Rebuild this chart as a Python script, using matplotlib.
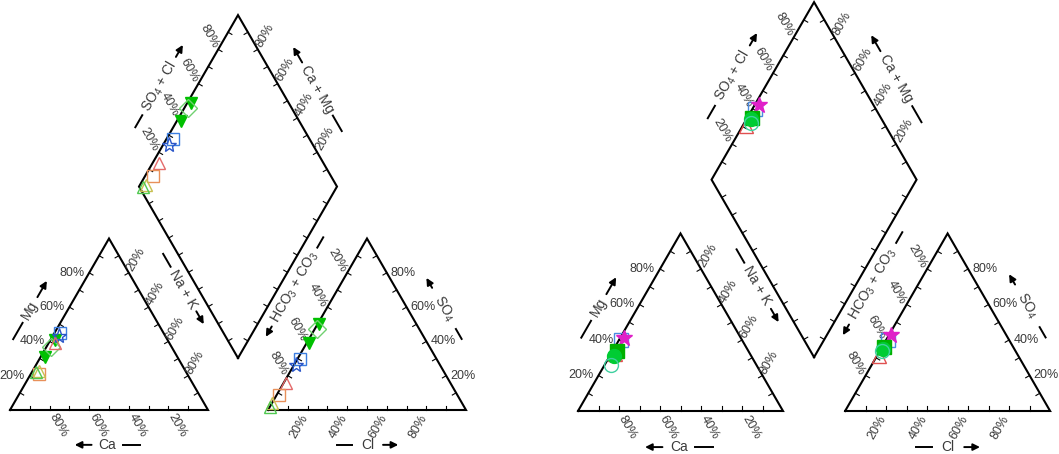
import numpy as np
import matplotlib.pyplot as plt

plt.rcParams['font.family'] = ['Liberation Sans', 'DejaVu Sans']
plt.rcParams['mathtext.fontset'] = 'custom'
plt.rcParams['mathtext.rm'] = 'Liberation Sans'
plt.rcParams['mathtext.it'] = 'Liberation Sans:italic'

GAP = 0.303
H = np.sqrt(3) / 2

# ---- data (meq %) ----
# left diagram
left_ca = [57, 67, 61, 52, 54, 58, 75, 74, 76]
left_mg = [41, 31, 37, 45, 43, 39, 21, 23, 22]
left_nak = [2, 2, 2, 3, 3, 3, 4, 3, 2]
left_cl = [1, 1, 1, 1, 1, 1, 1, 0, 0]
left_so4 = [50, 39, 47, 30, 26, 16, 9, 4, 2]
left_hco3 = [49, 60, 52, 69, 73, 83, 90, 96, 98]
left_markers = ['v', 'v', 'D', 's', '*', '^', 's', '^', '^']
left_colors = ['#00c000', '#00c000', '#70d070', '#3c7ee0', '#2a55c8',
               '#e46a6a', '#e8905a', '#c8c050', '#50c850']
left_filled = [True, True, False, False, False, False, False, False, False]

# right diagram
right_ca = [66, 59, 57, 64, 67, 71]
right_mg = [32, 40, 41, 34, 31, 26]
right_nak = [2, 1, 2, 2, 2, 3]
right_cl = [1, 1, 1, 1, 1, 1]
right_so4 = [31, 40, 43, 36, 35, 34]
right_hco3 = [68, 59, 56, 63, 64, 65]
right_markers = ['^', 's', '*', 's', 'o', 'o']
right_colors = ['#e05050', '#4a8ae0', '#e020c8', '#00b000', '#00cc33', '#40d0a0']
right_filled = [False, False, True, True, True, False]

ticks = [20, 40, 60, 80]
TXT = '#3a3a3a'


def edge_ticks(ax, p0, p1, center, n=10, ln=0.022):
    p0 = np.array(p0); p1 = np.array(p1)
    d = (p1 - p0) / np.linalg.norm(p1 - p0)
    nrm = np.array([-d[1], d[0]])
    mid = (p0 + p1) / 2
    if np.dot(center - mid, nrm) < 0:
        nrm = -nrm
    for i in range(1, n):
        p = p0 + (p1 - p0) * i / n
        q = p + nrm * ln
        ax.plot([p[0], q[0]], [p[1], q[1]], color='k', lw=0.8)


def axis_name(ax, text, c, rot, inner, outer, arrow_first):
    a = np.deg2rad(rot)
    d = np.array([np.cos(a), np.sin(a)])
    c = np.array(c)
    ax.text(c[0], c[1], text, rotation=rot, ha='center', va='center',
            rotation_mode='anchor', fontsize=10, color=TXT)
    neg = (c - d * inner, c - d * outer)
    pos = (c + d * inner, c + d * outer)
    arr, dash = (neg, pos) if arrow_first else (pos, neg)
    ax.plot([dash[0][0], dash[1][0]], [dash[0][1], dash[1][1]], color='k', lw=1.4)
    ax.annotate('', xy=arr[1], xytext=arr[0],
                arrowprops=dict(arrowstyle='-|>', color='k', lw=1.4,
                                mutation_scale=10, shrinkA=0, shrinkB=0))


def piper(ax, ca, mg, nak, cl, so4, hco3, markers, colors, filled, size):
    x0 = 1 + GAP
    B = np.array([1 + GAP / 2, GAP * H])
    L = B + [-0.5, H]
    R = B + [0.5, H]
    T = B + [0, 2 * H]
    tri1 = [(0, 0), (1, 0), (0.5, H)]
    tri2 = [(x0, 0), (x0 + 1, 0), (x0 + 0.5, H)]
    dia = [tuple(B), tuple(R), tuple(T), tuple(L)]
    for poly in (tri1, tri2, dia):
        pts = np.array(poly + [poly[0]])
        ax.plot(pts[:, 0], pts[:, 1], color='k', lw=1.5, solid_joinstyle='miter')
        cen = pts[:-1].mean(axis=0)
        for i in range(len(poly)):
            edge_ticks(ax, poly[i], poly[(i + 1) % len(poly)], cen)

    kw = dict(fontsize=9, color=TXT, rotation_mode='anchor')
    for t in ticks:
        v = t / 100
        s = f'{t}%'
        # Mg (left edge, left triangle)
        ax.text(0.5 * v - 0.025, H * v, s, ha='right', va='center', **kw)
        # Ca (bottom)
        ax.text(1 - v + 0.012, -0.025, s, ha='left', va='center', rotation=-60, **kw)
        # Na+K (right edge)
        ax.text(0.5 + 0.5 * v + 0.003, H * (1 - v) + 0.012, s, ha='left',
                va='center', rotation=60, **kw)
        # Cl (bottom, right triangle)
        ax.text(x0 + v - 0.012, -0.028, s, ha='right', va='center', rotation=60, **kw)
        # HCO3 (left edge, right triangle)
        ax.text(x0 + 0.5 * (1 - v) - 0.018, H * (1 - v) + 0.006, s, ha='right',
                va='center', rotation=-60, **kw)
        # SO4 (right edge)
        ax.text(x0 + 1 - 0.5 * v + 0.02, H * v, s, ha='left', va='center', **kw)
        # SO4+Cl (diamond upper-left)
        p = L + v * np.array([0.5, H])
        ax.text(p[0] - 0.015, p[1] + 0.012, s, ha='right', va='center', rotation=-60, **kw)
        # Ca+Mg (diamond upper-right)
        p = R + v * np.array([-0.5, H])
        ax.text(p[0] + 0.006, p[1] + 0.014, s, ha='left', va='center', rotation=60, **kw)

    axis_name(ax, 'Mg', (0.101, 0.505), 60, 0.075, 0.17, False)
    axis_name(ax, 'Ca', (0.492, -0.176), 0, 0.08, 0.165, True)
    axis_name(ax, 'Na + K', (0.876, 0.611), -60, 0.13, 0.205, False)
    axis_name(ax, r'HCO$_3$ + CO$_3$', (1.437, 0.621), 60, 0.23, 0.29, True)
    axis_name(ax, r'SO$_4$', (2.192, 0.513), -60, 0.12, 0.178, True)
    axis_name(ax, 'Cl', (1.806, -0.176), 0, 0.078, 0.155, False)
    axis_name(ax, r'SO$_4$ + Cl', (0.753, 1.636), 60, 0.17, 0.24, False)
    axis_name(ax, 'Ca + Mg', (1.553, 1.621), -60, 0.155, 0.245, True)

    ca = np.array(ca); mg = np.array(mg); nak = np.array(nak)
    cl = np.array(cl); so4 = np.array(so4)
    cx = nak / 100 + mg / 200
    cy = mg / 100 * H
    axx = x0 + cl / 100 + so4 / 200
    ay = so4 / 100 * H
    c = (ca + mg) / 100
    b = (so4 + cl) / 100
    dx = B[0] + 0.5 * (b - c)
    dy = B[1] + H * (b + c)
    for i in range(len(ca)):
        ms = size + 2 if markers[i] == '*' else size
        fc = colors[i] if filled[i] else 'none'
        for px, py in ((cx[i], cy[i]), (axx[i], ay[i]), (dx[i], dy[i])):
            ax.plot(px, py, marker=markers[i], ms=ms, mfc=fc, mec=colors[i],
                    mew=1.0, ls='none', zorder=3)


fig = plt.figure(figsize=(10.59, 4.54), dpi=100)

ax1 = fig.add_axes([0, 0, 530 / 1059, 1])
piper(ax1, left_ca, left_mg, left_nak, left_cl, left_so4, left_hco3,
      left_markers, left_colors, left_filled, 9)
ax1.set_xlim(-10 / 198, 520 / 198)
ax1.set_ylim(-44 / 198, 410 / 198)
ax1.axis('off')

ax2 = fig.add_axes([530 / 1059, 0, 529 / 1059, 1])
piper(ax2, right_ca, right_mg, right_nak, right_cl, right_so4, right_hco3,
      right_markers, right_colors, right_filled, 10)
ax2.set_xlim(-48 / 205, 481 / 205)
ax2.set_ylim(-43 / 205, 411 / 205)
ax2.axis('off')

fig.savefig('out.png', dpi=100)
